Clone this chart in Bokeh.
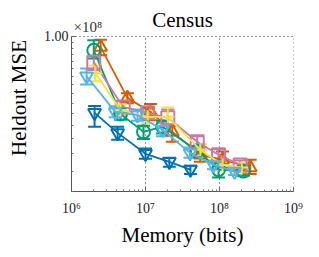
from bokeh.plotting import figure
from bokeh.models import (Range1d, FixedTicker, LogTicker, CustomJSTickFormatter, Label,
                          ColumnDataSource, Whisker, TeeHead)
from bokeh.embed import file_html
from bokeh.resources import INLINE

# ---- data ----
mem_dblue = [2.05e6, 4.2e6, 1.0e7, 2.1e7, 4.05e7]
mse_dblue = [5.05e7, 4.22e7, 3.5e7, 3.26e7, 3.04e7]
lo_dblue = [4.46e7, 3.97e7, 3.35e7, 3.12e7, 2.92e7]
hi_dblue = [5.37e7, 4.46e7, 3.67e7, 3.38e7, 3.15e7]

mem_orange = [2.47e6, 5.7e6, 1.17e7, 2.3e7, 5.5e7, 1.1e8, 2.6e8]
mse_orange = [9.1e7, 5.77e7, 5.09e7, 4.26e7, 3.47e7, 3.32e7, 3.1e7]
lo_orange = [8.45e7, 5.5e7, 4.73e7, 3.9e7, 3.26e7, 3.1e7, 2.92e7]
hi_orange = [9.7e7, 6.02e7, 5.46e7, 4.5e7, 3.7e7, 3.57e7, 3.32e7]

mem_green = [2.0e6, 4.6e6, 9.4e6, 1.7e7, 5.0e7, 9.7e7, 2.1e8]
mse_green = [8.83e7, 5.0e7, 4.26e7, 4.46e7, 3.6e7, 3.04e7, 3.0e7]
lo_green = [8.2e7, 4.75e7, 4.0e7, 4.2e7, 3.45e7, 2.83e7, 2.88e7]
hi_green = [9.65e7, 5.25e7, 4.5e7, 4.7e7, 3.75e7, 3.25e7, 3.15e7]

mem_pink = [2.0e6, 5.0e6, 1.07e7, 2.0e7, 5.0e7, 9.7e7, 1.9e8]
mse_pink = [7.94e7, 5.32e7, 5.05e7, 4.83e7, 3.9e7, 3.47e7, 3.17e7]
lo_pink = [7.4e7, 5.05e7, 4.8e7, 4.5e7, 3.7e7, 3.3e7, 3.05e7]
hi_pink = [8.4e7, 5.6e7, 5.3e7, 5.2e7, 4.1e7, 3.65e7, 3.3e7]

mem_yellow = [2.1e6, 4.6e6, 1.07e7, 2.0e7, 5.5e7, 1.1e8, 2.0e8]
mse_yellow = [7.2e7, 5.18e7, 4.87e7, 4.87e7, 3.63e7, 3.17e7, 3.1e7]
lo_yellow = [6.7e7, 4.95e7, 4.6e7, 4.55e7, 3.45e7, 3.02e7, 2.97e7]
hi_yellow = [7.7e7, 5.45e7, 5.15e7, 5.3e7, 3.82e7, 3.32e7, 3.22e7]

mem_lblue = [1.6e6, 3.9e6, 7.8e6, 1.7e7, 4.0e7, 8.3e7, 1.6e8]
mse_lblue = [7.0e7, 5.09e7, 4.95e7, 4.34e7, 3.53e7, 3.17e7, 2.99e7]
lo_lblue = [6.5e7, 4.85e7, 4.7e7, 4.1e7, 3.38e7, 3.05e7, 2.9e7]
hi_lblue = [7.5e7, 5.35e7, 5.2e7, 4.6e7, 3.7e7, 3.3e7, 3.1e7]

x_ticks = [1e6, 1e7, 1e8, 1e9]
y_ticks = [1e8]
y_min, y_max = 2.5e7, 1e8

series = [
    (mem_dblue, mse_dblue, lo_dblue, hi_dblue, "#0072B2", "inverted_triangle"),
    (mem_orange, mse_orange, lo_orange, hi_orange, "#D55E00", "triangle"),
    (mem_green, mse_green, lo_green, hi_green, "#009E73", "circle"),
    (mem_pink, mse_pink, lo_pink, hi_pink, "#CC79A7", "square"),
    (mem_yellow, mse_yellow, lo_yellow, hi_yellow, "#F0E442", "cross"),
    (mem_lblue, mse_lblue, lo_lblue, hi_lblue, "#56B4E9", "inverted_triangle"),
]

SERIF = "Liberation Serif"
PX_PER_DEC_Y = 259.0
PX_PER_DEC_X = 74.0
HEADROOM = 32  # px of frame above the 1e8 line used for title text

p = figure(width=311, height=249, x_axis_type="log", y_axis_type="log",
           x_range=Range1d(x_ticks[0], x_ticks[-1]),
           y_range=Range1d(y_min, y_max * 10 ** (HEADROOM / PX_PER_DEC_Y)),
           output_backend="svg", toolbar_location=None,
           min_border_left=71, min_border_right=18, min_border_top=36 - HEADROOM,
           min_border_bottom=57)
p.outline_line_color = None
p.background_fill_color = "white"

# dotted vertical grid lines (limited to the data area) and dotted top line
p.segment(x0=x_ticks[1:], y0=[y_min] * 3, x1=x_ticks[1:], y1=[y_max] * 3,
          line_color="#333333", line_dash="1 3", line_width=1)
p.xgrid.visible = False
p.ygrid.ticker = FixedTicker(ticks=y_ticks)
p.ygrid.grid_line_color = "#333333"
p.ygrid.grid_line_dash = "1 3"

for mem, mse, lo, hi, col, mk in series:
    src = ColumnDataSource(dict(x=mem, y=mse, lo=lo, hi=hi))
    w = Whisker(base="x", lower="lo", upper="hi", source=src, line_color=col, line_width=2,
                upper_head=TeeHead(size=13, line_color=col, line_width=2),
                lower_head=TeeHead(size=13, line_color=col, line_width=2))
    p.add_layout(w)
    p.line("x", "y", source=src, line_color=col, line_width=1.8)
    p.scatter("x", "y", source=src, marker=mk, size=13, fill_color=None,
              line_color=col, line_width=2)

# axes
xa = p.xaxis[0]
xa.ticker = LogTicker(desired_num_ticks=4, num_minor_ticks=10)
xa.formatter = CustomJSTickFormatter(code="""
const e = Math.round(Math.log10(tick));
const sup = {'6':'\u2076','7':'\u2077','8':'\u2078','9':'\u2079'};
return '10' + (sup[String(e)] || '');
""")
ya = p.yaxis[0]
ya.bounds = (y_min, y_max)
minor = [v * 1e6 for v in range(25, 101, 5)]
ya.ticker = FixedTicker(ticks=y_ticks, minor_ticks=minor)
ya.formatter = CustomJSTickFormatter(code="return (tick/1e8).toFixed(2);")

for ax in (xa, ya):
    ax.axis_line_color = "#555555"
    ax.major_tick_line_color = "#555555"
    ax.minor_tick_line_color = "#777777"
    ax.major_tick_in = 4
    ax.major_tick_out = 0
    ax.minor_tick_in = 2
    ax.minor_tick_out = 0
    ax.major_label_text_font = SERIF
    ax.major_label_text_font_size = "14px"
    ax.major_label_text_color = "#222222"
    ax.axis_label_text_font = SERIF
    ax.axis_label_text_font_size = "21px"
    ax.axis_label_text_font_style = "normal"
    ax.axis_label_text_color = "black"

xa.axis_label = "Memory (bits)"
xa.axis_label_standoff = 4
xa.major_label_standoff = 9
ya.axis_label = "Heldout MSE"
ya.axis_label_standoff = 10
ya.major_label_standoff = 3

# title and exponent note, placed just above the 1e8 line
p.add_layout(Label(x=10 ** 7.5, y=y_max * 10 ** (4 / PX_PER_DEC_Y), text="Census",
                   text_align="center", text_baseline="bottom", text_font=SERIF,
                   text_font_size="21px", text_color="black"))
p.add_layout(Label(x=x_ticks[0] * 10 ** (2 / PX_PER_DEC_X), y=y_max * 10 ** (1 / PX_PER_DEC_Y),
                   text="\u00d710\u2078", text_align="left", text_baseline="bottom",
                   text_font=SERIF, text_font_size="15px", text_color="#333333"))

open("out.html", "w").write(file_html(p, INLINE))
